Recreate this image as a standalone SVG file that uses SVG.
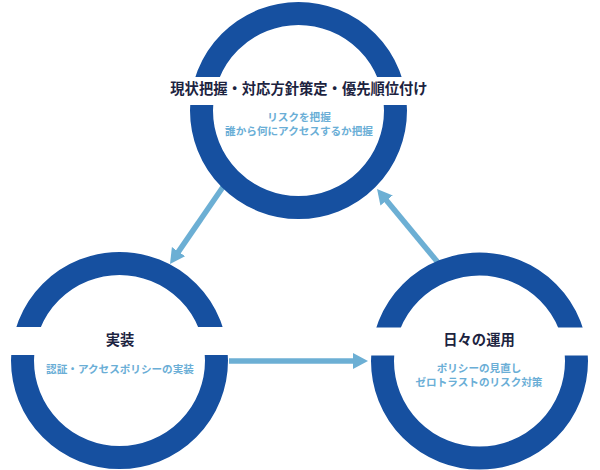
<svg xmlns="http://www.w3.org/2000/svg" width="600" height="470" viewBox="0 0 600 470">
  <style>
    .ring { fill: none; stroke: #1650a0; stroke-width: 23; }
    .title { font-family: "Noto Sans CJK JP", "Noto Sans", sans-serif; font-weight: bold; font-size: 14.3px; fill: #1c2340; text-anchor: middle; }
    .sub { font-family: "Noto Sans CJK JP", "Noto Sans", sans-serif; font-weight: bold; font-size: 10.6px; fill: #6aaed6; text-anchor: middle; }
    .conn { stroke: #6cafd4; stroke-width: 5.5; fill: none; }
  </style>
  <defs>
    <clipPath id="band" clipPathUnits="objectBoundingBox">
      <rect x="-0.5" y="-0.5" width="2" height="0.8273"/>
      <rect x="-0.5" y="0.4716" width="2" height="1.0284"/>
    </clipPath>
    <marker id="head" markerUnits="userSpaceOnUse" markerWidth="16" markerHeight="17" refX="3" refY="8" orient="auto">
      <path d="M0,0 L15,8 L0,16 Z" fill="#6cafd4"/>
    </marker>
  </defs>

  <g id="connectors">
    <line class="conn" x1="225" y1="184" x2="176.8" y2="254.1" marker-end="url(#head)"/>
    <line class="conn" x1="229" y1="361" x2="356" y2="361" marker-end="url(#head)"/>
    <line class="conn" x1="440" y1="265" x2="384.7" y2="198.2" marker-end="url(#head)"/>
  </g>

  <g id="node-assess">
    <circle class="ring" cx="298.5" cy="110.5" r="97" clip-path="url(#band)"/>
    <text class="title" x="299" y="93.6">現状把握・対応方針策定・優先順位付け</text>
    <text class="sub" x="299" y="121.2">リスクを把握</text>
    <text class="sub" x="299" y="135.2">誰から何にアクセスするか把握</text>
  </g>

  <g id="node-implement">
    <circle class="ring" cx="119.5" cy="360.5" r="97" clip-path="url(#band)"/>
    <text class="title" x="120" y="344.5">実装</text>
    <text class="sub" x="120" y="373">認証・アクセスポリシーの実装</text>
  </g>

  <g id="node-operate">
    <circle class="ring" cx="479.5" cy="361" r="97" clip-path="url(#band)"/>
    <text class="title" x="479" y="344.5">日々の運用</text>
    <text class="sub" x="479" y="372">ポリシーの見直し</text>
    <text class="sub" x="479" y="386">ゼロトラストのリスク対策</text>
  </g>
</svg>
